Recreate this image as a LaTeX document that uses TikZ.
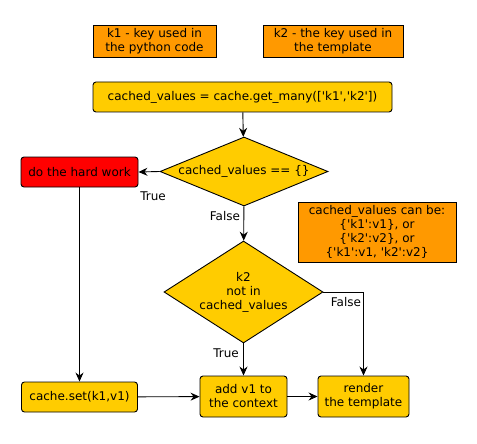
\documentclass[tikz,border=0pt]{standalone}
\usepackage{fontspec}
\setmainfont{DejaVu Sans}
\usetikzlibrary{shapes.geometric}
\usetikzlibrary{arrows.meta}
\definecolor{note}{rgb}{1, 0.6, 0}
\definecolor{step}{rgb}{1, 0.8, 0}
\definecolor{hard}{rgb}{1, 0, 0}
\newcommand{\sq}{\textquotesingle}

\begin{document}
\begin{tikzpicture}[x=1pt, y=-1pt, line width=0.9pt,
  every node/.style={font=\fontsize{12}{14}\selectfont, align=center, inner sep=0pt},
  notebox/.style={draw, fill=note, rectangle},
  stepbox/.style={draw, fill=step, rectangle, rounded corners=3pt},
  testbox/.style={draw, fill=step, diamond},
  flow/.style={-{Stealth[length=9pt, width=8pt, inset=3pt]}}]
\useasboundingbox (0, 0) rectangle (477, 444);
% notes
\node[notebox, minimum width=123pt, minimum height=32pt] (k1) at (154.5, 41) {k1 - key used in\\the python code};
\node[notebox, minimum width=140pt, minimum height=32pt] (k2) at (333, 41) {k2 - the key used in\\the template};
\node[notebox, minimum width=158pt, minimum height=60pt] (values) at (377, 232) {cached\_values can be:\\\{\sq k1\sq:v1\}, or\\\{\sq k2\sq:v2\}, or\\\{\sq k1\sq:v1, \sq k2\sq:v2\}};
% steps
\node[stepbox, minimum width=299pt, minimum height=30pt] (get) at (242.5, 97) {cached\_values = cache.get\_many([\sq k1\sq,\sq k2\sq])};
\node[testbox, aspect=2.43, minimum width=168pt, minimum height=69pt] (empty) at (244, 171.5) {cached\_values == \{\}};
\node[stepbox, fill=hard, minimum width=117pt, minimum height=30pt] (work) at (79.5, 172) {do the hard work};
\node[testbox, aspect=1.56, minimum width=159pt, minimum height=102pt] (missing) at (243.5, 292) {k2\\not in\\cached\_values};
\node[stepbox, minimum width=116pt, minimum height=30pt] (set) at (79.5, 397) {cache.set(k1,v1)};
\node[stepbox, minimum width=87pt, minimum height=41pt] (add) at (243.5, 396.5) {add v1 to\\the context};
\node[stepbox, minimum width=91pt, minimum height=41pt] (render) at (363.5, 396.5) {render\\the template};
% labels
\node (true1) at (153, 196) {True};
\node (false1) at (225, 216) {False};
\node (false2) at (346, 302) {False};
\node (true2) at (226, 353) {True};
% connectors
\draw[flow] (get) -- (empty);
\draw[flow] (empty.west) -- (work.east);
\draw[flow] (empty) -- (missing);
\draw[flow] (missing.east) -| (render.north);
\draw[flow] (missing) -- (add);
\draw[flow] (work) -- (set);
\draw[flow] (set) -- (add);
\draw[flow] (add) -- (render);
\end{tikzpicture}
\end{document}
